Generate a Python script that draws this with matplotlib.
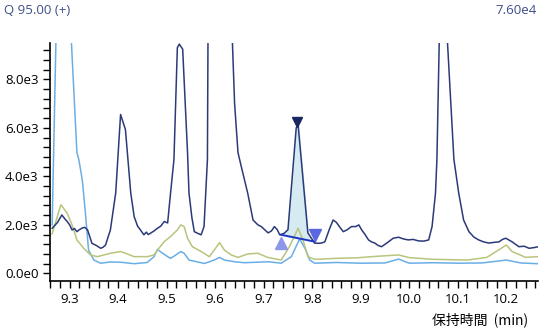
import matplotlib
matplotlib.use('Agg')
import matplotlib.pyplot as plt
from matplotlib.ticker import MultipleLocator, FormatStrFormatter
import numpy as np

plt.rcParams['font.family'] = ['Open Sans', 'Noto Sans CJK JP', 'DejaVu Sans']

# navy trace (main ion)
navy_t = [9.264, 9.275, 9.284, 9.29, 9.295, 9.30, 9.305, 9.31, 9.315, 9.32, 9.326, 9.331, 9.337, 9.346,
          9.355, 9.364, 9.369, 9.374,
          9.384, 9.395, 9.405, 9.415, 9.419, 9.426, 9.433, 9.44, 9.446, 9.453, 9.458, 9.462, 9.467,
          9.474, 9.481, 9.488, 9.495, 9.502, 9.508, 9.515, 9.522, 9.526, 9.533, 9.543, 9.546,
          9.552, 9.557, 9.564, 9.571, 9.577, 9.584, 9.59, 9.60, 9.61, 9.62, 9.63, 9.635,
          9.64, 9.647, 9.655, 9.667, 9.672, 9.678, 9.683, 9.688, 9.695, 9.702, 9.709, 9.716, 9.722, 9.728, 9.733,
          9.742, 9.75, 9.767, 9.771, 9.791, 9.805, 9.812, 9.819, 9.826, 9.835, 9.843, 9.85, 9.857, 9.864,
          9.872, 9.881, 9.89, 9.896, 9.902, 9.909, 9.916, 9.922, 9.929, 9.936, 9.943, 9.95, 9.957, 9.967, 9.978,
          9.988, 9.998, 10.008, 10.019, 10.03,
          10.04, 10.047, 10.054, 10.057, 10.062, 10.07, 10.078, 10.092, 10.102, 10.112,
          10.123, 10.133, 10.143, 10.153, 10.164, 10.175, 10.185, 10.192, 10.199, 10.212, 10.226, 10.237,
          10.247, 10.256, 10.264]
navy_i = [1860, 2100, 2410, 2250, 2140, 2000, 1790, 1850, 1720, 1800, 1870, 1900, 1790, 1240,
          1150, 1035, 1080, 1170,
          1790, 3320, 6550, 5930, 4980, 3310, 2340, 1950, 1790, 1590, 1700, 1600, 1660,
          1750, 1860, 1950, 2140, 2080, 3310, 4690, 9300, 9450, 9240, 4980, 3310,
          2300, 1720, 1650, 1590, 1930, 4690, 30000, 60000, 76000, 60000, 25000, 9800,
          7000, 4980, 4300, 3310, 2800, 2200, 2100, 2000, 1930, 1800, 1670, 1750, 1930, 1800, 1590,
          1650, 1800, 6000, 6100, 1670, 1250, 1240, 1250, 1300, 1800, 2200, 2100, 1900, 1720,
          1800, 1930, 1930, 2000, 1790, 1600, 1380, 1300, 1250, 1150, 1100, 1200, 1300, 1450, 1490,
          1420, 1380, 1400, 1340, 1330,
          1380, 1930, 3300, 4700, 9800, 15000, 9800, 4700, 3300, 2200,
          1720, 1500, 1380, 1300, 1250, 1280, 1300, 1400, 1450, 1300, 1100, 1120,
          1035, 1060, 1090]

# light blue trace
blue_t = [9.264, 9.272, 9.285, 9.303, 9.315, 9.319, 9.326, 9.332, 9.339, 9.35,
          9.364, 9.384, 9.405, 9.433, 9.46, 9.474, 9.481, 9.488, 9.502, 9.508,
          9.519, 9.529, 9.536, 9.546, 9.564, 9.578, 9.598, 9.609, 9.619, 9.64,
          9.66, 9.71, 9.736, 9.757, 9.774, 9.785, 9.795, 9.805, 9.85, 9.9,
          9.95, 9.978, 10.0, 10.05, 10.1, 10.15, 10.2, 10.23, 10.264]
blue_i = [2000, 9800, 30000, 9800, 4980, 4690, 3860, 2620, 960, 550,
          420, 470, 460, 400, 450, 690, 990, 880, 690, 620,
          760, 900, 830, 550, 470, 410, 550, 660, 550, 480,
          440, 480, 420, 690, 1420, 1035, 550, 420, 450, 420,
          430, 590, 420, 440, 420, 430, 550, 430, 400]

# olive trace
olive_t = [9.264, 9.282, 9.295, 9.305, 9.315, 9.329, 9.343, 9.357, 9.384, 9.405,
           9.415, 9.433, 9.46, 9.474, 9.484, 9.495, 9.508, 9.522, 9.529, 9.536,
           9.543, 9.553, 9.571, 9.588, 9.598, 9.609, 9.619, 9.633, 9.647, 9.667,
           9.688, 9.708, 9.736, 9.753, 9.771, 9.781, 9.791, 9.805, 9.85, 9.89,
           9.93, 9.978, 10.0, 10.05, 10.12, 10.16, 10.2, 10.212, 10.24, 10.264]
olive_i = [1630, 2830, 2480, 2000, 1380, 1035, 760, 690, 830, 900,
           830, 690, 690, 760, 1035, 1310, 1520, 1790, 2000, 1930,
           1450, 1100, 900, 690, 960, 1270, 960, 760, 660, 800,
           830, 660, 550, 1100, 1860, 1380, 690, 580, 620, 640,
           700, 760, 650, 580, 550, 660, 1170, 900, 660, 690]

# integrated peak
peak_start = 9.736
peak_end = 9.805
base_start = 1590
base_end = 1310
apex_t = 9.769
apex_mark = 6230
start_mark = 1250
end_mark = 1590

fig = plt.figure(figsize=(5.4, 3.3), dpi=100)
ax = fig.add_axes([0.093, 0.148, 0.903, 0.722])

ax.plot(blue_t, blue_i, color='#6aaee6', lw=1.1, zorder=2)
ax.plot(olive_t, olive_i, color='#b9c47c', lw=1.1, zorder=2)

# fill under main trace above the baseline
t_fill = np.linspace(peak_start, peak_end, 80)
y_fill = np.interp(t_fill, navy_t, navy_i)
b_fill = np.interp(t_fill, [peak_start, peak_end], [base_start, base_end])
ax.fill_between(t_fill, b_fill, y_fill, color='#d6eaf2', zorder=1)

ax.plot(navy_t, navy_i, color='#2b3a78', lw=1.1, zorder=3)
ax.plot([peak_start, peak_end], [base_start, base_end], color='#1f35c8', lw=1.4, zorder=4)
ax.plot(peak_start, start_mark, marker='^', ms=9, color='#8e98e8', ls='none', zorder=5)
ax.plot(peak_end, end_mark, marker='v', ms=9, color='#5a68e0', ls='none', zorder=5)
ax.plot(apex_t, apex_mark, marker='v', ms=7, color='#1a2660', ls='none', zorder=5)

ax.set_xlim(9.26, 10.265)
ax.set_ylim(-320, 9500)
ax.xaxis.set_major_locator(MultipleLocator(0.1))
ax.xaxis.set_minor_locator(MultipleLocator(0.02))
ax.yaxis.set_major_locator(MultipleLocator(2000))
ax.yaxis.set_minor_locator(MultipleLocator(400))
ax.xaxis.set_major_formatter(FormatStrFormatter('%.1f'))
for sp in ['top', 'right']:
    ax.spines[sp].set_visible(False)
ax.spines['left'].set_linewidth(1.2)
ax.spines['bottom'].set_linewidth(1.2)
ax.tick_params(axis='both', which='both', direction='out', width=1.0, labelsize=9.5, length=5)

yt = [0, 2000, 4000, 6000, 8000]
ax.set_yticks(yt)
ax.set_yticklabels(['0.0e0', '2.0e3', '4.0e3', '6.0e3', '8.0e3'])

fig.text(0.007, 0.968, 'Q 95.00 (+)', color='#3d4f8a', fontsize=9.5, va='center', ha='left')
fig.text(0.994, 0.968, '7.60e4', color='#3d4f8a', fontsize=9.5, va='center', ha='right')
fig.text(0.978, 0.03, '保持時間  (min)', fontsize=10, ha='right', va='center',
         family=['Noto Sans CJK JP', 'DejaVu Sans'])

plt.savefig('out.png', dpi=100)
plt.close()
